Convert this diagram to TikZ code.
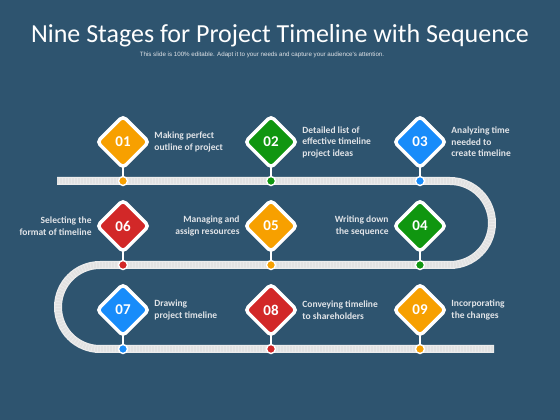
\documentclass[tikz,border=0pt]{standalone}
\usepackage{fontspec}
\setmainfont{Carlito}
\newfontfamily\subfont{Liberation Sans}
\usetikzlibrary{positioning,shapes.geometric,shadows}

\definecolor{bgblue}{RGB}{46,84,111}
\definecolor{stOrange}{RGB}{247,160,0}
\definecolor{stGreen}{RGB}{16,150,16}
\definecolor{stBlue}{RGB}{24,140,250}
\definecolor{stRed}{RGB}{210,40,40}
\definecolor{trackgray}{RGB}{226,226,226}
\definecolor{txtgray}{RGB}{225,228,232}

\tikzset{
	stage/.style={shape=diamond, aspect=1, draw=white, line width=3.5pt,
		rounded corners=4pt, fill=#1, minimum size=53pt, inner sep=0pt,
		drop shadow={opacity=0.35, shadow xshift=1pt, shadow yshift=-1.5pt}},
	num/.style={text=white, font=\fontsize{15}{15}\selectfont\bfseries},
	knob/.style={shape=circle, draw=white, line width=1.4pt, fill=#1,
		minimum size=9pt, inner sep=0pt},
	stem/.style={draw=white, line width=1.2pt},
	desc/.style={text=txtgray, font=\fontsize{9.5}{11.5}\selectfont\bfseries, inner sep=1pt},
}

\begin{document}
\begin{tikzpicture}[x=1pt, y=1pt]

	\fill[bgblue] (0,0) rectangle (560,420);
	\useasboundingbox (0,0) rectangle (560,420);

	\node[text=white, font=\fontsize{26}{30}\selectfont] (title) at (280,384)
		{Nine Stages for Project Timeline with Sequence};
	\node[text=txtgray, font=\subfont\fontsize{6.2}{7}\selectfont] (sub) at (262,365)
		{This slide is 100\% editable. Adapt it to your needs and capture your audience's attention.};

	% track
	\draw[white!85!gray, line width=8pt] (57,239) -- (450,239) arc (90:-90:42pt) -- (100,155)
		arc (90:270:42pt) -- (494,71);
	\draw[trackgray, line width=5.5pt, dash pattern=on 2pt off 1pt] (57,239) -- (450,239)
		arc (90:-90:42pt) -- (100,155) arc (90:270:42pt) -- (494,71);

	\node[knob=stOrange] (k1) at (123,239) {};
	\node[knob=stGreen]  (k2) at (271,239) {};
	\node[knob=stBlue]   (k3) at (420,239) {};
	\node[knob=stGreen]  (k4) at (420,155) {};
	\node[knob=stOrange] (k5) at (271,155) {};
	\node[knob=stRed]    (k6) at (123,155) {};
	\node[knob=stBlue]   (k7) at (123,71) {};
	\node[knob=stRed]    (k8) at (271,71) {};
	\node[knob=stOrange] (k9) at (420,71) {};

	\coordinate (c1) at (123,278);
	\coordinate (c2) at (271,278);
	\coordinate (c3) at (420,278);
	\coordinate (c4) at (420,194);
	\coordinate (c5) at (271,194);
	\coordinate (c6) at (123,194);
	\coordinate (c7) at (123,110);
	\coordinate (c8) at (271,110);
	\coordinate (c9) at (420,110);

	\path[stem] (c1) edge (k1);
	\path[stem] (c2) edge (k2);
	\path[stem] (c3) edge (k3);
	\path[stem] (c4) edge (k4);
	\path[stem] (c5) edge (k5);
	\path[stem] (c6) edge (k6);
	\path[stem] (c7) edge (k7);
	\path[stem] (c8) edge (k8);
	\path[stem] (c9) edge (k9);

	\node[stage=stOrange] (s1) at (c1) {};
	\node[stage=stGreen]  (s2) at (c2) {};
	\node[stage=stBlue]   (s3) at (c3) {};
	\node[stage=stGreen]  (s4) at (c4) {};
	\node[stage=stOrange] (s5) at (c5) {};
	\node[stage=stRed]    (s6) at (c6) {};
	\node[stage=stBlue]   (s7) at (c7) {};
	\node[stage=stRed]    (s8) at (c8) {};
	\node[stage=stOrange] (s9) at (c9) {};

	\node[num] at (s1) {01};
	\node[num] at (s2) {02};
	\node[num] at (s3) {03};
	\node[num] at (s4) {04};
	\node[num] at (s5) {05};
	\node[num] at (s6) {06};
	\node[num] at (s7) {07};
	\node[num] at (s8) {08};
	\node[num] at (s9) {09};

	\node[desc, align=left, right=2pt of s1] (l1) {Making perfect\\outline of project};
	\node[desc, align=left, right=2pt of s2] (l2) {Detailed list of\\effective timeline\\project ideas};
	\node[desc, align=left, right=2pt of s3] (l3) {Analyzing time\\needed to\\create timeline};
	\node[desc, align=right, left=2pt of s4] (l4) {Writing down\\the sequence};
	\node[desc, align=right, left=2pt of s5] (l5) {Managing and\\assign resources};
	\node[desc, align=right, left=2pt of s6] (l6) {Selecting the\\format of timeline};
	\node[desc, align=left, right=2pt of s7] (l7) {Drawing\\project timeline};
	\node[desc, align=left, right=2pt of s8] (l8) {Conveying timeline\\to shareholders};
	\node[desc, align=left, right=2pt of s9] (l9) {Incorporating\\the changes};

\end{tikzpicture}
\end{document}
